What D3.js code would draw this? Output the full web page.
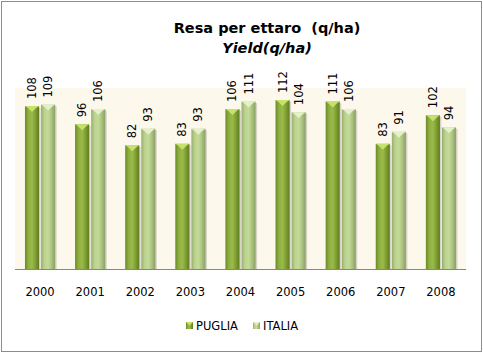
<!DOCTYPE html>
<html>
<head>
<meta charset="utf-8">
<script src="https://cdn.jsdelivr.net/npm/d3@7"></script>
<style>
  body { margin: 0; background: #fff; }
  svg text { font-family: "DejaVu Sans", Verdana, sans-serif; }
</style>
</head>
<body>
<div id="wrapper"></div>
<script>
// data
const years = ["2000", "2001", "2002", "2003", "2004", "2005", "2006", "2007", "2008"]
const puglia = [108, 96, 82, 83, 106, 112, 111, 83, 102]
const italia = [109, 106, 93, 93, 111, 104, 106, 91, 94]
const seriesNames = ["PUGLIA", "ITALIA"]

function drawChart() {
  const dimensions = {
    width: 483,
    height: 353,
    margin: { top: 88, right: 17, bottom: 84, left: 15 },
  }
  dimensions.boundedWidth = dimensions.width - dimensions.margin.left - dimensions.margin.right
  dimensions.boundedHeight = dimensions.height - dimensions.margin.top - dimensions.margin.bottom

  const svg = d3.select("#wrapper").append("svg")
    .attr("width", dimensions.width)
    .attr("height", dimensions.height)

  // outer frame
  svg.append("rect")
    .attr("x", 1.5).attr("y", 1.5)
    .attr("width", dimensions.width - 3)
    .attr("height", dimensions.height - 3)
    .attr("fill", "#fff")
    .attr("stroke", "#8c8c8c")

  const defs = svg.append("defs")
  const grads = [
    { id: "g-puglia", stops: ["#6a8a26", "#8fb040", "#9aba4a", "#7e9e32", "#5e7c20"] },
    { id: "g-italia", stops: ["#97ad70", "#bcd48f", "#c4da98", "#aac180", "#8aa064"] },
  ]
  grads.forEach(g => {
    const lg = defs.append("linearGradient").attr("id", g.id)
      .attr("x1", "0").attr("x2", "1").attr("y1", "0").attr("y2", "0")
    g.stops.forEach((c, i) => lg.append("stop")
      .attr("offset", `${i / (g.stops.length - 1) * 100}%`)
      .attr("stop-color", c))
  })
  const bevelColor = ["#c6e26c", "#e4f0c8"]

  const bounds = svg.append("g")
    .attr("transform", `translate(${dimensions.margin.left},${dimensions.margin.top})`)

  // plot area background
  bounds.append("rect")
    .attr("width", dimensions.boundedWidth)
    .attr("height", dimensions.boundedHeight)
    .attr("fill", "#fdf8ec")

  // scales
  const xScale = d3.scaleBand()
    .domain(years)
    .range([0, dimensions.boundedWidth])

  const xInner = d3.scaleBand()
    .domain(seriesNames)
    .range([0, xScale.bandwidth()])
    .paddingInner(0.125)
    .paddingOuter(0.62)

  const yScale = d3.scaleLinear()
    .domain([0, 120])
    .range([dimensions.boundedHeight, 0])

  const rows = years.map((y, i) => ({ year: y, values: [puglia[i], italia[i]] }))

  const groups = bounds.selectAll(".year")
    .data(rows)
    .enter().append("g")
    .attr("class", "year")
    .attr("transform", d => `translate(${xScale(d.year)},0)`)

  const bars = groups.selectAll(".bar")
    .data(d => d.values.map((v, i) => ({ name: seriesNames[i], value: v, i })))
    .enter().append("g")
    .attr("class", "bar")

  const bw = xInner.bandwidth()

  // shadow
  bars.append("rect")
    .attr("x", d => xInner(d.name) + 1.5)
    .attr("y", d => yScale(d.value) + 1.5)
    .attr("width", bw)
    .attr("height", d => dimensions.boundedHeight - yScale(d.value) - 1.5)
    .attr("fill", "#000")
    .attr("opacity", 0.15)

  bars.append("rect")
    .attr("x", d => xInner(d.name))
    .attr("y", d => yScale(d.value))
    .attr("width", bw)
    .attr("height", d => dimensions.boundedHeight - yScale(d.value))
    .attr("fill", d => `url(#${grads[d.i].id})`)

  // bevel on top
  bars.append("path")
    .attr("d", d => {
      const x0 = xInner(d.name), x1 = x0 + bw, y = yScale(d.value)
      return `M${x0},${y}L${x1},${y}L${x1 - 3},${y + 2}L${x0 + bw / 2},${y + 6}L${x0 + 3},${y + 2}Z`
    })
    .attr("fill", d => bevelColor[d.i])

  // value labels
  bars.append("text")
    .attr("transform", d => `translate(${xInner(d.name) + bw / 2 + 4},${yScale(d.value) - 7}) rotate(-90)`)
    .attr("font-size", 11.5)
    .attr("fill", "#000")
    .text(d => d.value)

  // x axis
  bounds.append("line")
    .attr("x1", 0).attr("x2", dimensions.boundedWidth)
    .attr("y1", dimensions.boundedHeight + 0.5)
    .attr("y2", dimensions.boundedHeight + 0.5)
    .attr("stroke", "#868686")

  bounds.selectAll(".tick-label")
    .data(years)
    .enter().append("text")
    .attr("class", "tick-label")
    .attr("x", d => xScale(d) + xScale.bandwidth() / 2)
    .attr("y", dimensions.boundedHeight + 27)
    .attr("text-anchor", "middle")
    .attr("font-size", 11.5)
    .text(d => d)

  // title
  const title = svg.append("text")
    .attr("text-anchor", "middle")
    .attr("font-family", "Lato, 'Open Sans', sans-serif")
    .attr("font-weight", "bold")
    .attr("font-size", 14.5)
  title.append("tspan").attr("x", 267).attr("y", 33).attr("xml:space", "preserve").text("Resa per ettaro  (q/ha)")
  title.append("tspan").attr("x", 267).attr("y", 53).attr("font-style", "italic").text("Yield(q/ha)")

  // legend
  const legendItems = [
    { name: "PUGLIA", x: 186 },
    { name: "ITALIA", x: 253 },
  ]
  const legend = svg.selectAll(".legend")
    .data(legendItems)
    .enter().append("g")
    .attr("class", "legend")
    .attr("transform", d => `translate(${d.x},322)`)
  legend.append("rect")
    .attr("width", 7).attr("height", 7)
    .attr("fill", (d, i) => `url(#${grads[i].id})`)
  legend.append("path")
    .attr("d", "M0,0L7,0L3.5,3.5Z")
    .attr("fill", (d, i) => bevelColor[i])
  legend.append("text")
    .attr("x", 10)
    .attr("y", 8)
    .attr("font-size", 11.5)
    .text(d => d.name)
}
drawChart()
</script>
</body>
</html>
